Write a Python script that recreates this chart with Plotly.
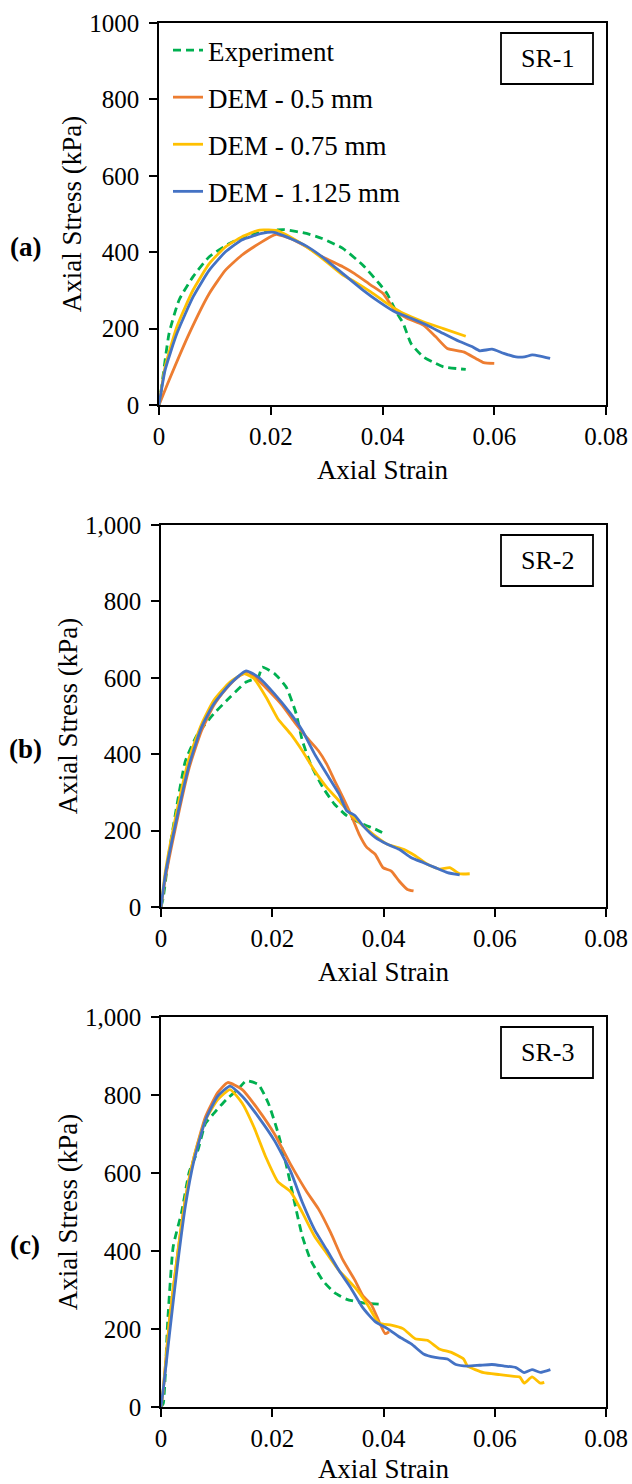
import plotly.graph_objects as go

# ---------------- data ----------------
strain_ticks = [0, 0.02, 0.04, 0.06, 0.08]
strain_tick_text = ["0", "0.02", "0.04", "0.06", "0.08"]
stress_ticks = [0, 200, 400, 600, 800, 1000]
stress_tick_text_a = ["0", "200", "400", "600", "800", "1000"]
stress_tick_text_bc = ["0", "200", "400", "600", "800", "1,000"]

series_names = ["Experiment", "DEM - 0.5 mm", "DEM - 0.75 mm", "DEM - 1.125 mm"]
panel_labels = ["(a)", "(b)", "(c)"]
sample_names = ["SR-1", "SR-2", "SR-3"]

# SR-1
sr1_exp_strain = [0, 0.0004, 0.0018, 0.0036, 0.0061, 0.009, 0.0126, 0.0162, 0.0206, 0.0224, 0.0264, 0.0292, 0.0329, 0.0365, 0.0394, 0.0408, 0.0426, 0.0437, 0.0451, 0.0473, 0.0495, 0.0509, 0.0549]
sr1_exp_stress = [0, 40, 187, 275, 336, 388, 423, 445, 458, 459, 449, 436, 410, 366, 318, 292, 240, 214, 161, 126, 109, 100, 93]
sr1_d05_strain = [0, 0.0018, 0.0054, 0.009, 0.0119, 0.0148, 0.0184, 0.0206, 0.021, 0.0235, 0.0264, 0.0292, 0.0329, 0.035, 0.0379, 0.0401, 0.0422, 0.0444, 0.0473, 0.0495, 0.0516, 0.0545, 0.0567, 0.0581, 0.06]
sr1_d05_stress = [0, 65, 187, 292, 353, 392, 427, 445, 447, 436, 414, 388, 362, 344, 314, 292, 248, 227, 209, 179, 148, 139, 122, 111, 109]
sr1_d075_strain = [0, 0.0011, 0.0032, 0.0061, 0.009, 0.0119, 0.0148, 0.018, 0.0213, 0.0235, 0.0264, 0.0292, 0.0329, 0.035, 0.0379, 0.0408, 0.0437, 0.0473, 0.0509, 0.0549]
sr1_d075_stress = [0, 100, 205, 301, 370, 414, 440, 458, 456, 440, 414, 384, 340, 323, 296, 266, 240, 218, 200, 180]
sr1_d1125_strain = [0, 0.0011, 0.0032, 0.0061, 0.009, 0.0119, 0.0148, 0.0184, 0.0206, 0.0235, 0.0264, 0.0292, 0.0329, 0.0365, 0.0394, 0.0422, 0.0451, 0.048, 0.0509, 0.0538, 0.056, 0.0574, 0.0596, 0.0617, 0.0639, 0.0654, 0.0668, 0.0682, 0.07]
sr1_d1125_stress = [0, 92, 187, 283, 353, 401, 432, 449, 452, 436, 416, 388, 344, 301, 270, 244, 227, 209, 187, 166, 153, 142, 146, 135, 126, 126, 131, 128, 122]

# SR-2
sr2_exp_strain = [0, 0.0004, 0.0015, 0.003, 0.0044, 0.0066, 0.0095, 0.0124, 0.0153, 0.0175, 0.0182, 0.0204, 0.0225, 0.0243, 0.0254, 0.0269, 0.0291, 0.0312, 0.0334, 0.0363, 0.0385, 0.0403]
sr2_exp_stress = [0, 24, 147, 278, 383, 453, 506, 549, 589, 602, 628, 611, 576, 506, 436, 374, 313, 269, 239, 217, 204, 191]
sr2_d05_strain = [0, 0.0008, 0.003, 0.0051, 0.0073, 0.0095, 0.0117, 0.0138, 0.0157, 0.0175, 0.0196, 0.0218, 0.024, 0.0262, 0.0283, 0.0298, 0.0312, 0.0327, 0.0341, 0.0356, 0.037, 0.0385, 0.0399, 0.0414, 0.0428, 0.0443, 0.0454]
sr2_d05_stress = [0, 77, 234, 366, 462, 528, 571, 602, 615, 593, 563, 528, 484, 444, 409, 374, 331, 287, 243, 191, 156, 138, 103, 94, 68, 46, 42]
sr2_d075_strain = [0, 0.0008, 0.003, 0.0051, 0.0073, 0.0095, 0.0124, 0.0149, 0.0167, 0.0189, 0.021, 0.0233, 0.0254, 0.0276, 0.0298, 0.032, 0.0341, 0.0363, 0.0385, 0.0407, 0.0436, 0.0457, 0.0479, 0.0501, 0.0519, 0.0537, 0.0555]
sr2_d075_stress = [0, 94, 261, 392, 479, 541, 589, 611, 598, 549, 493, 453, 409, 357, 313, 278, 243, 213, 186, 164, 151, 134, 112, 99, 103, 87, 87]
sr2_d1125_strain = [0, 0.0008, 0.003, 0.0051, 0.0073, 0.0095, 0.0124, 0.0153, 0.0175, 0.0204, 0.0233, 0.0254, 0.0276, 0.0298, 0.032, 0.0334, 0.0349, 0.0363, 0.0385, 0.0407, 0.0428, 0.045, 0.0472, 0.0493, 0.0515, 0.0537]
sr2_d1125_stress = [0, 86, 243, 374, 471, 532, 584, 618, 602, 558, 506, 462, 401, 348, 296, 252, 239, 213, 182, 164, 151, 129, 116, 103, 90, 84]

# SR-3
sr3_exp_strain = [0, 0.0004, 0.0012, 0.0022, 0.0037, 0.0051, 0.0066, 0.008, 0.0095, 0.0117, 0.0138, 0.0153, 0.0175, 0.0193, 0.0211, 0.0225, 0.024, 0.0254, 0.0269, 0.0291, 0.0312, 0.0334, 0.0363, 0.0399]
sr3_exp_stress = [0, 9, 219, 412, 499, 604, 657, 727, 753, 788, 814, 836, 827, 779, 700, 622, 525, 438, 377, 324, 293, 276, 267, 263]
sr3_d05_strain = [0, 0.0004, 0.0015, 0.003, 0.0044, 0.0059, 0.008, 0.0102, 0.012, 0.0146, 0.0175, 0.0204, 0.0233, 0.0262, 0.0283, 0.0305, 0.0327, 0.0349, 0.0363, 0.0378, 0.0392, 0.0403, 0.041]
sr3_d05_stress = [0, 44, 219, 394, 534, 639, 744, 806, 832, 814, 762, 700, 622, 552, 508, 447, 377, 324, 285, 263, 219, 188, 193]
sr3_d075_strain = [0, 0.0004, 0.0015, 0.003, 0.0044, 0.0059, 0.008, 0.0102, 0.0124, 0.0146, 0.0167, 0.0189, 0.021, 0.0233, 0.0254, 0.0276, 0.0298, 0.032, 0.0349, 0.0371, 0.0392, 0.0414, 0.0435, 0.0457, 0.0479, 0.05, 0.0522, 0.0544, 0.0551, 0.058, 0.0609, 0.0631, 0.0645, 0.0653, 0.0667, 0.0682, 0.0689]
sr3_d075_stress = [0, 44, 219, 394, 534, 639, 736, 788, 814, 779, 718, 639, 578, 552, 499, 438, 394, 350, 306, 263, 215, 210, 201, 175, 171, 149, 140, 123, 105, 88, 83, 79, 77, 61, 77, 61, 63]
sr3_d1125_strain = [0, 0.0004, 0.0015, 0.003, 0.0044, 0.0059, 0.008, 0.0102, 0.0124, 0.0146, 0.0175, 0.0204, 0.0233, 0.0254, 0.0276, 0.0298, 0.032, 0.0341, 0.0363, 0.0385, 0.0407, 0.0428, 0.045, 0.0472, 0.0493, 0.0515, 0.053, 0.0551, 0.0573, 0.0595, 0.0617, 0.0638, 0.0653, 0.0667, 0.0682, 0.07]
sr3_d1125_stress = [0, 44, 184, 368, 517, 630, 736, 797, 823, 797, 744, 683, 604, 525, 455, 403, 350, 306, 254, 219, 201, 180, 162, 136, 127, 123, 109, 105, 107, 109, 105, 101, 88, 96, 89, 96]

panels = [
    [(sr1_exp_strain, sr1_exp_stress), (sr1_d05_strain, sr1_d05_stress), (sr1_d075_strain, sr1_d075_stress), (sr1_d1125_strain, sr1_d1125_stress)],
    [(sr2_exp_strain, sr2_exp_stress), (sr2_d05_strain, sr2_d05_stress), (sr2_d075_strain, sr2_d075_stress), (sr2_d1125_strain, sr2_d1125_stress)],
    [(sr3_exp_strain, sr3_exp_stress), (sr3_d05_strain, sr3_d05_stress), (sr3_d075_strain, sr3_d075_stress), (sr3_d1125_strain, sr3_d1125_stress)],
]

# ---------------- styling ----------------
W, H = 632, 1484
FONT = "Liberation Serif, Times New Roman, serif"
colors = ["#00B050", "#ED7D31", "#FFC000", "#4472C4"]
dashes = ["8px,5px", "solid", "solid", "solid"]

# pixel geometry of the three plot areas (left, right, top, bottom)
boxes = [(159, 606, 23, 405), (161, 606, 525, 907), (161, 606, 1017, 1407)]

fig = go.Figure()
for p, series in enumerate(panels):
    ax = "" if p == 0 else str(p + 1)
    for s, (xs, ys) in enumerate(series):
        fig.add_trace(go.Scatter(
            x=xs, y=ys, mode="lines", name=series_names[s],
            line=dict(color=colors[s], width=2.8, dash=dashes[s],
                      shape="spline", smoothing=0.5),
            xaxis="x" + ax, yaxis="y" + ax,
            showlegend=(p == 0), legendgroup="g%d" % s,
        ))

layout = dict(
    width=W, height=H, autosize=False,
    margin=dict(l=0, r=0, t=0, b=0, pad=0, autoexpand=False),
    paper_bgcolor="white", plot_bgcolor="white",
    font=dict(family=FONT, size=25, color="black"),
    legend=dict(
        x=168 / W, y=1 - 26 / H, xanchor="left", yanchor="top",
        font=dict(family=FONT, size=27, color="black"),
        bgcolor="rgba(0,0,0,0)", tracegroupgap=9,
        itemwidth=30,
    ),
    annotations=[], shapes=[],
)

for p in range(3):
    l, r, t, b = boxes[p]
    xk = "xaxis" if p == 0 else "xaxis%d" % (p + 1)
    yk = "yaxis" if p == 0 else "yaxis%d" % (p + 1)
    ax = "" if p == 0 else str(p + 1)
    layout[xk] = dict(
        domain=[l / W, r / W], anchor="y" + ax, range=[0, 0.08],
        tickvals=strain_ticks, ticktext=strain_tick_text, automargin=False,
        showgrid=False, zeroline=False, showline=True, mirror=True,
        linecolor="black", linewidth=1.6, ticks="outside", ticklen=8,
        tickwidth=1.6, tickcolor="black",
        tickfont=dict(family=FONT, size=25, color="black"),
        title=dict(text="Axial Strain", font=dict(family=FONT, size=27, color="black"), standoff=11),
    )
    layout[yk] = dict(
        domain=[1 - b / H, 1 - t / H], anchor="x" + ax, range=[0, 1000],
        tickvals=stress_ticks, automargin=False,
        ticktext=stress_tick_text_a if p == 0 else stress_tick_text_bc,
        showgrid=False, zeroline=False, showline=True, mirror=True,
        linecolor="black", linewidth=1.6, ticks="outside", ticklen=8,
        tickwidth=1.6, tickcolor="black", ticklabelstandoff=5,
        tickfont=dict(family=FONT, size=25, color="black"),
        title=dict(text="Axial Stress (kPa)", font=dict(family=FONT, size=27, color="black"), standoff=0),
    )
    # sample box
    layout["shapes"].append(dict(
        type="rect", xref="paper", yref="paper",
        x0=501 / W, x1=593 / W, y0=1 - (t + 61) / H, y1=1 - (t + 10) / H,
        line=dict(color="black", width=1.8), fillcolor="white", layer="above",
    ))
    layout["annotations"].append(dict(
        text=sample_names[p], xref="paper", yref="paper",
        x=547 / W, y=1 - (t + 35.5) / H, xanchor="center", yanchor="middle",
        showarrow=False, font=dict(family=FONT, size=26, color="black"),
    ))
    layout["annotations"].append(dict(
        text="<b>" + panel_labels[p] + "</b>", xref="paper", yref="paper",
        x=25 / W, y=1 - ((t + b) / 2 + 33) / H, xanchor="center", yanchor="middle",
        showarrow=False, font=dict(family=FONT, size=27, color="black"),
    ))

fig.update_layout(**layout)
fig.write_html("out.html")
